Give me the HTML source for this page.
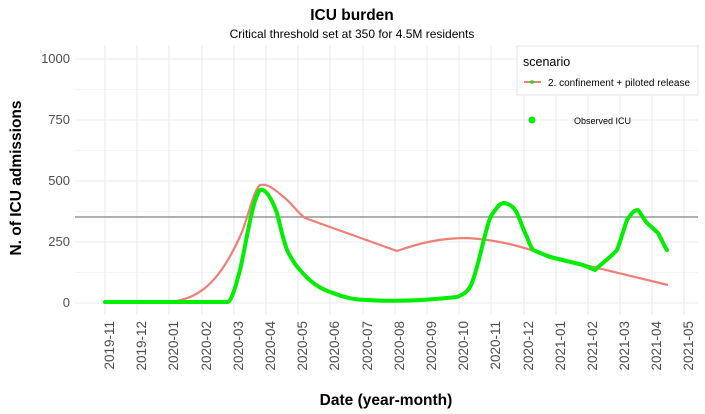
<!DOCTYPE html>
<html><head><meta charset="utf-8"><style>
body{margin:0;background:#fff;}
svg{display:block;font-family:"Liberation Sans",sans-serif;}
</style></head><body>
<svg width="705" height="414" viewBox="0 0 705 414">
<rect width="705" height="414" fill="#fff"/>
<g stroke="#f4f4f4" stroke-width="1">
<line x1="75" x2="698" y1="272.5" y2="272.5"/><line x1="75" x2="698" y1="211.5" y2="211.5"/><line x1="75" x2="698" y1="150.5" y2="150.5"/><line x1="75" x2="698" y1="89.5" y2="89.5"/>
</g>
<g stroke="#ebebeb" stroke-width="1.1">
<line x1="75" x2="698" y1="303" y2="303"/><line x1="75" x2="698" y1="242" y2="242"/><line x1="75" x2="698" y1="181" y2="181"/><line x1="75" x2="698" y1="120" y2="120"/><line x1="75" x2="698" y1="59" y2="59"/>
<line x1="105" x2="105" y1="45" y2="315"/><line x1="137" x2="137" y1="45" y2="315"/><line x1="169" x2="169" y1="45" y2="315"/><line x1="202" x2="202" y1="45" y2="315"/><line x1="234" x2="234" y1="45" y2="315"/><line x1="266" x2="266" y1="45" y2="315"/><line x1="298" x2="298" y1="45" y2="315"/><line x1="330" x2="330" y1="45" y2="315"/><line x1="363" x2="363" y1="45" y2="315"/><line x1="395" x2="395" y1="45" y2="315"/><line x1="427" x2="427" y1="45" y2="315"/><line x1="459" x2="459" y1="45" y2="315"/><line x1="491" x2="491" y1="45" y2="315"/><line x1="524" x2="524" y1="45" y2="315"/><line x1="556" x2="556" y1="45" y2="315"/><line x1="588" x2="588" y1="45" y2="315"/><line x1="620" x2="620" y1="45" y2="315"/><line x1="652" x2="652" y1="45" y2="315"/><line x1="684" x2="684" y1="45" y2="315"/>
</g>
<line x1="75" x2="698" y1="217" y2="217" stroke="#808080" stroke-width="1.3"/>
<path d="M170,302 C185,300 195,296 205,288 C220,276 232,255 242,232 C250,210 254,190 260,185 C268,183 275,190 285,198 C293,205 298,213 305,218 L397,251 C420,243 440,238 467,238 C500,240 520,246 560,259 L668,285" fill="none" stroke="#ef7f76" stroke-width="2.2"/>
<path d="M105,302 L228,302 C232,300 236,285 240,270 C246,245 252,200 260,190 C266,188 272,200 277,213 C281,230 284,242 287,250 C292,260 296,266 300,270 C310,282 320,289 333,293 C345,298 355,300 367,300 C400,302 430,300 457,297 C465,294 470,290 473,280 C478,265 480,255 483,243 C487,228 489,218 493,213 C498,206 500,203 505,203 C512,205 514,208 517,213 C521,222 524,232 527,237 C529,243 531,247 533,250 L550,257 L583,265 L595,270 C603,262 610,258 617,250 C621,240 624,228 627,220 C631,214 634,210 638,210 C642,215 644,220 647,223 L658,233 C662,240 664,246 667,250" fill="none" stroke="#00ee00" stroke-width="4" stroke-linecap="round" stroke-linejoin="round"/>
<g font-size="13" fill="#4d4d4d" text-anchor="end">
<text x="70" y="307">0</text><text x="70" y="246">250</text><text x="70" y="185">500</text><text x="70" y="124">750</text><text x="70" y="63">1000</text>
</g>
<g font-size="13.5" fill="#4d4d4d" text-anchor="end">
<text transform="translate(114,321) rotate(-90)">2019-11</text><text transform="translate(146,321) rotate(-90)">2019-12</text><text transform="translate(178,321) rotate(-90)">2020-01</text><text transform="translate(211,321) rotate(-90)">2020-02</text><text transform="translate(243,321) rotate(-90)">2020-03</text><text transform="translate(275,321) rotate(-90)">2020-04</text><text transform="translate(307,321) rotate(-90)">2020-05</text><text transform="translate(339,321) rotate(-90)">2020-06</text><text transform="translate(372,321) rotate(-90)">2020-07</text><text transform="translate(404,321) rotate(-90)">2020-08</text><text transform="translate(436,321) rotate(-90)">2020-09</text><text transform="translate(468,321) rotate(-90)">2020-10</text><text transform="translate(500,321) rotate(-90)">2020-11</text><text transform="translate(533,321) rotate(-90)">2020-12</text><text transform="translate(565,321) rotate(-90)">2021-01</text><text transform="translate(597,321) rotate(-90)">2021-02</text><text transform="translate(629,321) rotate(-90)">2021-03</text><text transform="translate(661,321) rotate(-90)">2021-04</text><text transform="translate(693,321) rotate(-90)">2021-05</text>
</g>
<text x="352" y="20" font-size="15.5" font-weight="bold" text-anchor="middle">ICU burden</text>
<text x="352" y="38" font-size="12" text-anchor="middle">Critical threshold set at  350 for 4.5M residents</text>
<text x="386" y="405" font-size="15.5" font-weight="bold" text-anchor="middle">Date (year-month)</text>
<text transform="translate(21,178) rotate(-90)" font-size="15.5" font-weight="bold" text-anchor="middle">N. of ICU admissions</text>
<rect x="517" y="46" width="181" height="49" fill="#fff" stroke="#e6e6e6"/>
<text x="523" y="66" font-size="12.5">scenario</text>
<line x1="524" x2="541" y1="82" y2="82" stroke="#ef7f76" stroke-width="2"/>
<circle cx="532" cy="82" r="1.8" fill="#00ee00"/>
<text x="548" y="86" font-size="10">2. confinement + piloted release</text>
<circle cx="532" cy="120" r="3.5" fill="#00ee00"/>
<text x="574" y="124" font-size="9">Observed ICU</text>
</svg>
</body></html>
